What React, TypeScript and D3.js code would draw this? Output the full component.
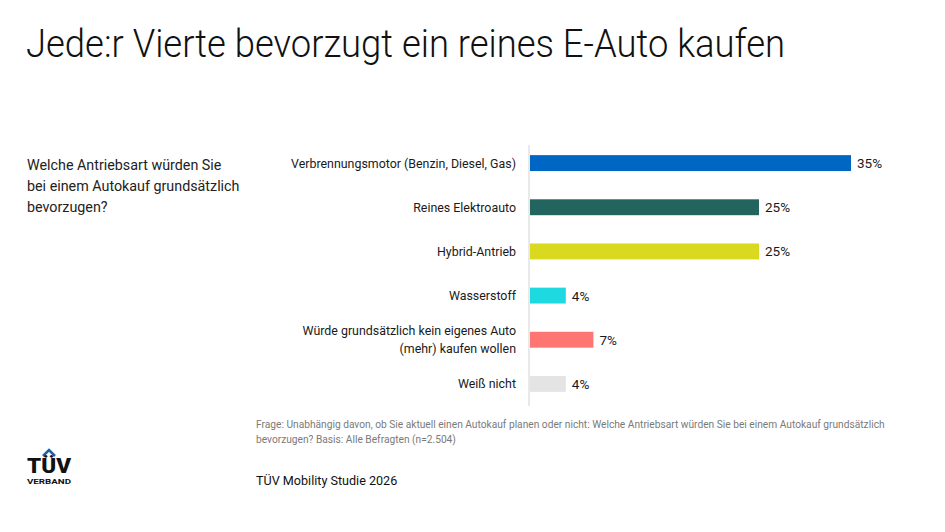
import React from "react";
import * as d3 from "d3";

const categories = [
  ["Verbrennungsmotor (Benzin, Diesel, Gas)"],
  ["Reines Elektroauto"],
  ["Hybrid-Antrieb"],
  ["Wasserstoff"],
  ["Würde grundsätzlich kein eigenes Auto", "(mehr) kaufen wollen"],
  ["Weiß nicht"],
];
const values = [35, 25, 25, 4, 7, 4];
const colors = ["#0066C3", "#23645F", "#D9D91F", "#1FD9E1", "#FF7571", "#E4E4E4"];

const title = "Jede:r Vierte bevorzugt ein reines E-Auto kaufen";
const questionLines = ["Welche Antriebsart würden Sie", "bei einem Autokauf grundsätzlich", "bevorzugen?"];
const footnoteLines = [
  "Frage: Unabhängig davon, ob Sie aktuell einen Autokauf planen oder nicht: Welche Antriebsart würden Sie bei einem Autokauf grundsätzlich",
  "bevorzugen? Basis: Alle Befragten (n=2.504)",
];
const source = "TÜV Mobility Studie 2026";

export default function App() {
  const x0 = 529;
  const x = d3.scaleLinear().domain([0, 35]).range([x0, 851]);
  const y = d3
    .scaleBand<number>()
    .domain(d3.range(categories.length))
    .range([141, 406])
    .paddingInner(0.64)
    .paddingOuter(0.32);
  const font = "Roboto, 'Noto Sans', sans-serif";
  return (
    <svg
      width={945}
      height={532}
      style={{ position: "absolute", left: 0, top: 0, background: "#fff" }}
      fontFamily={font}
    >
      <rect width={945} height={532} fill="#fff" />
      <text x={26} y={57} fontSize={39} fontWeight={300} fill="#111" textLength={759} lengthAdjust="spacingAndGlyphs">
        {title}
      </text>
      {questionLines.map((l, i) => (
        <text key={i} x={27} y={170 + i * 21} fontSize={14.3} fill="#222">
          {l}
        </text>
      ))}
      <line x1={x0} x2={x0} y1={145} y2={406} stroke="#e2e2e2" strokeWidth={1.5} />
      {values.map((v, i) => {
        const yc = (y(i) as number) + y.bandwidth() / 2;
        const lines = categories[i];
        return (
          <g key={i}>
            <rect x={x0 + 1} y={y(i)} width={x(v) - x0 - 1} height={y.bandwidth()} fill={colors[i]} />
            {lines.map((l, j) => (
              <text
                key={j}
                x={516}
                y={yc + 4.5 + (j - (lines.length - 1) / 2) * 18}
                fontSize={12.4}
                textAnchor="end"
                fill="#1a1a1a"
              >
                {l}
              </text>
            ))}
            <text x={x(v) + 6} y={yc + 5} fontSize={13.5} fill="#1a1a1a">
              {v}%
            </text>
          </g>
        );
      })}
      {footnoteLines.map((l, i) => (
        <text key={i} x={256} y={428 + i * 15} fontSize={10.2} fill="#7a7a7a">
          {l}
        </text>
      ))}
      <text x={256} y={485} fontSize={12.6} fill="#111">
        {source}
      </text>
      <g>
        <path d="M43 456 L49 450 L55 456" fill="none" stroke="#1f5fa8" strokeWidth={2.5} />
        <text x={27} y={473} fontSize={21} fontWeight={900} fill="#111" textLength={44} lengthAdjust="spacingAndGlyphs">
          TÜV
        </text>
        <text x={27} y={484} fontSize={8} fontWeight={700} fill="#111" textLength={44} lengthAdjust="spacingAndGlyphs">
          VERBAND
        </text>
      </g>
    </svg>
  );
}
